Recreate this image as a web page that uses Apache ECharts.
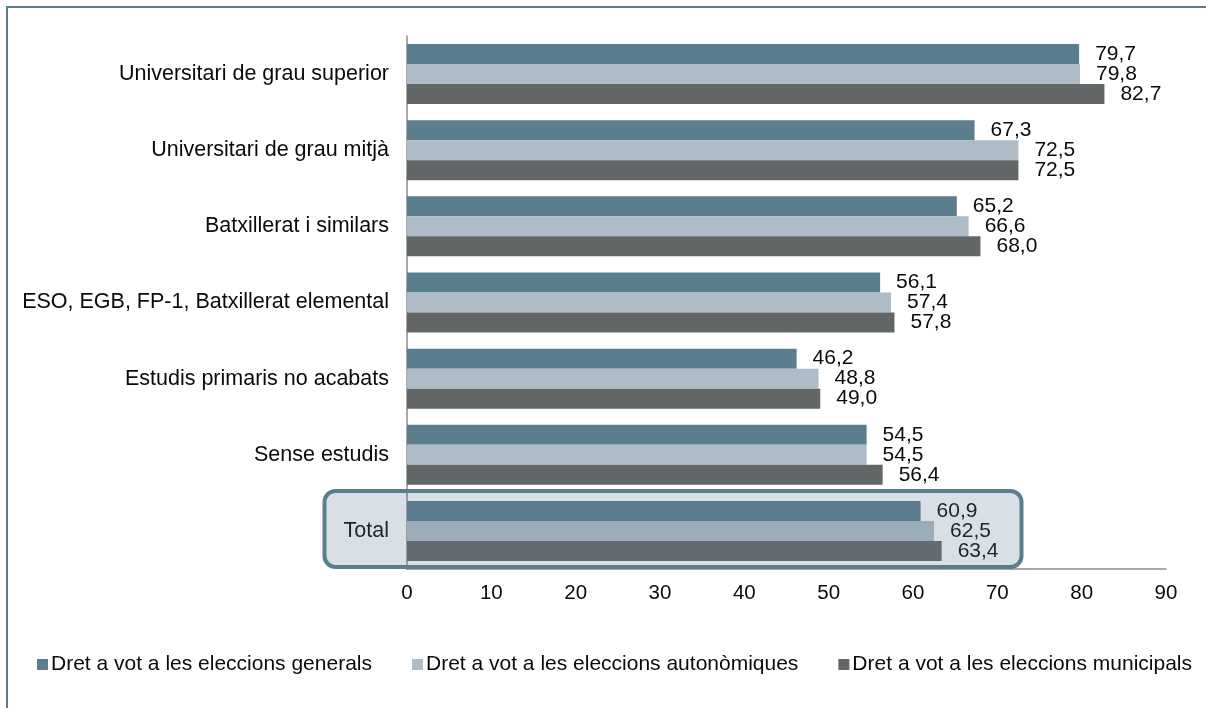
<!DOCTYPE html>
<html>
<head>
<meta charset="utf-8">
<script src="https://cdn.jsdelivr.net/npm/echarts@6/dist/echarts.min.js"></script>
<style>
html,body{margin:0;padding:0;background:#fff;}
#chart{width:1206px;height:708px;}
</style>
</head>
<body>
<div id="chart"></div>
<script>
var categories = ['Universitari de grau superior','Universitari de grau mitjà','Batxillerat i similars','ESO, EGB, FP-1, Batxillerat elemental','Estudis primaris no acabats','Sense estudis','Total'];
var seriesNames = ['Dret a vot a les eleccions generals','Dret a vot a les eleccions autonòmiques','Dret a vot a les eleccions municipals'];
var generals = [79.7, 67.3, 65.2, 56.1, 46.2, 54.5, 60.9];
var autonomiques = [79.8, 72.5, 66.6, 57.4, 48.8, 54.5, 62.5];
var municipals = [82.7, 72.5, 68.0, 57.8, 49.0, 56.4, 63.4];
var xTicks = [0, 10, 20, 30, 40, 50, 60, 70, 80, 90];

var colors = ['#5b7e8f', '#adbcc6', '#626667'];
var font = 'Liberation Sans, Arial, sans-serif';

var chart = echarts.init(document.getElementById('chart'));
function mk(name, data, color) {
  return {
    name: name, type: 'bar', data: data, barWidth: 20, barGap: '0%',
    itemStyle: { color: color },
    label: { show: true, position: 'right', distance: 16, fontSize: 21, fontFamily: font, color: '#0a0a0a',
      formatter: function (p) { return p.value.toFixed(1).replace('.', ','); } }
  };
}
chart.setOption({
  animation: false,
  color: colors,
  grid: { left: 407, right: 40, top: 36, bottom: 139, containLabel: false },
  xAxis: {
    type: 'value', min: xTicks[0], max: xTicks[xTicks.length - 1], interval: 10,
    axisLine: { show: true, lineStyle: { color: '#8c8c8c', width: 1.5 } },
    axisTick: { show: false }, splitLine: { show: false },
    axisLabel: { fontSize: 20.5, fontFamily: font, color: '#0a0a0a', margin: 14 }
  },
  yAxis: {
    type: 'category', data: categories, inverse: true,
    axisLine: { show: true, lineStyle: { color: '#8c8c8c', width: 1.5 } },
    axisTick: { show: false },
    axisLabel: { fontSize: 21.5, fontFamily: font, color: '#0a0a0a', margin: 18 }
  },
  legend: {
    left: 37, top: 654, width: 1200, padding: 0, itemWidth: 11, itemHeight: 11, itemGap: 40, icon: 'rect',
    textStyle: { fontSize: 21, fontFamily: font, color: '#0a0a0a', padding: [0, 0, 0, -2] },
    data: seriesNames
  },
  series: [mk(seriesNames[0], generals, colors[0]), mk(seriesNames[1], autonomiques, colors[1]), mk(seriesNames[2], municipals, colors[2])],
  graphic: [
    { type: 'rect', z: 100, silent: true, shape: { x: 7, y: 7, width: 1220, height: 720 },
      style: { fill: 'none', stroke: '#5b7e8f', lineWidth: 2 } },
    { type: 'rect', z: 100, silent: true, shape: { x: 324.5, y: 491, width: 697, height: 76, r: 11 },
      style: { fill: 'rgba(95,124,148,0.24)', stroke: '#5b7e8f', lineWidth: 4 } }
  ]
});
</script>
</body>
</html>
